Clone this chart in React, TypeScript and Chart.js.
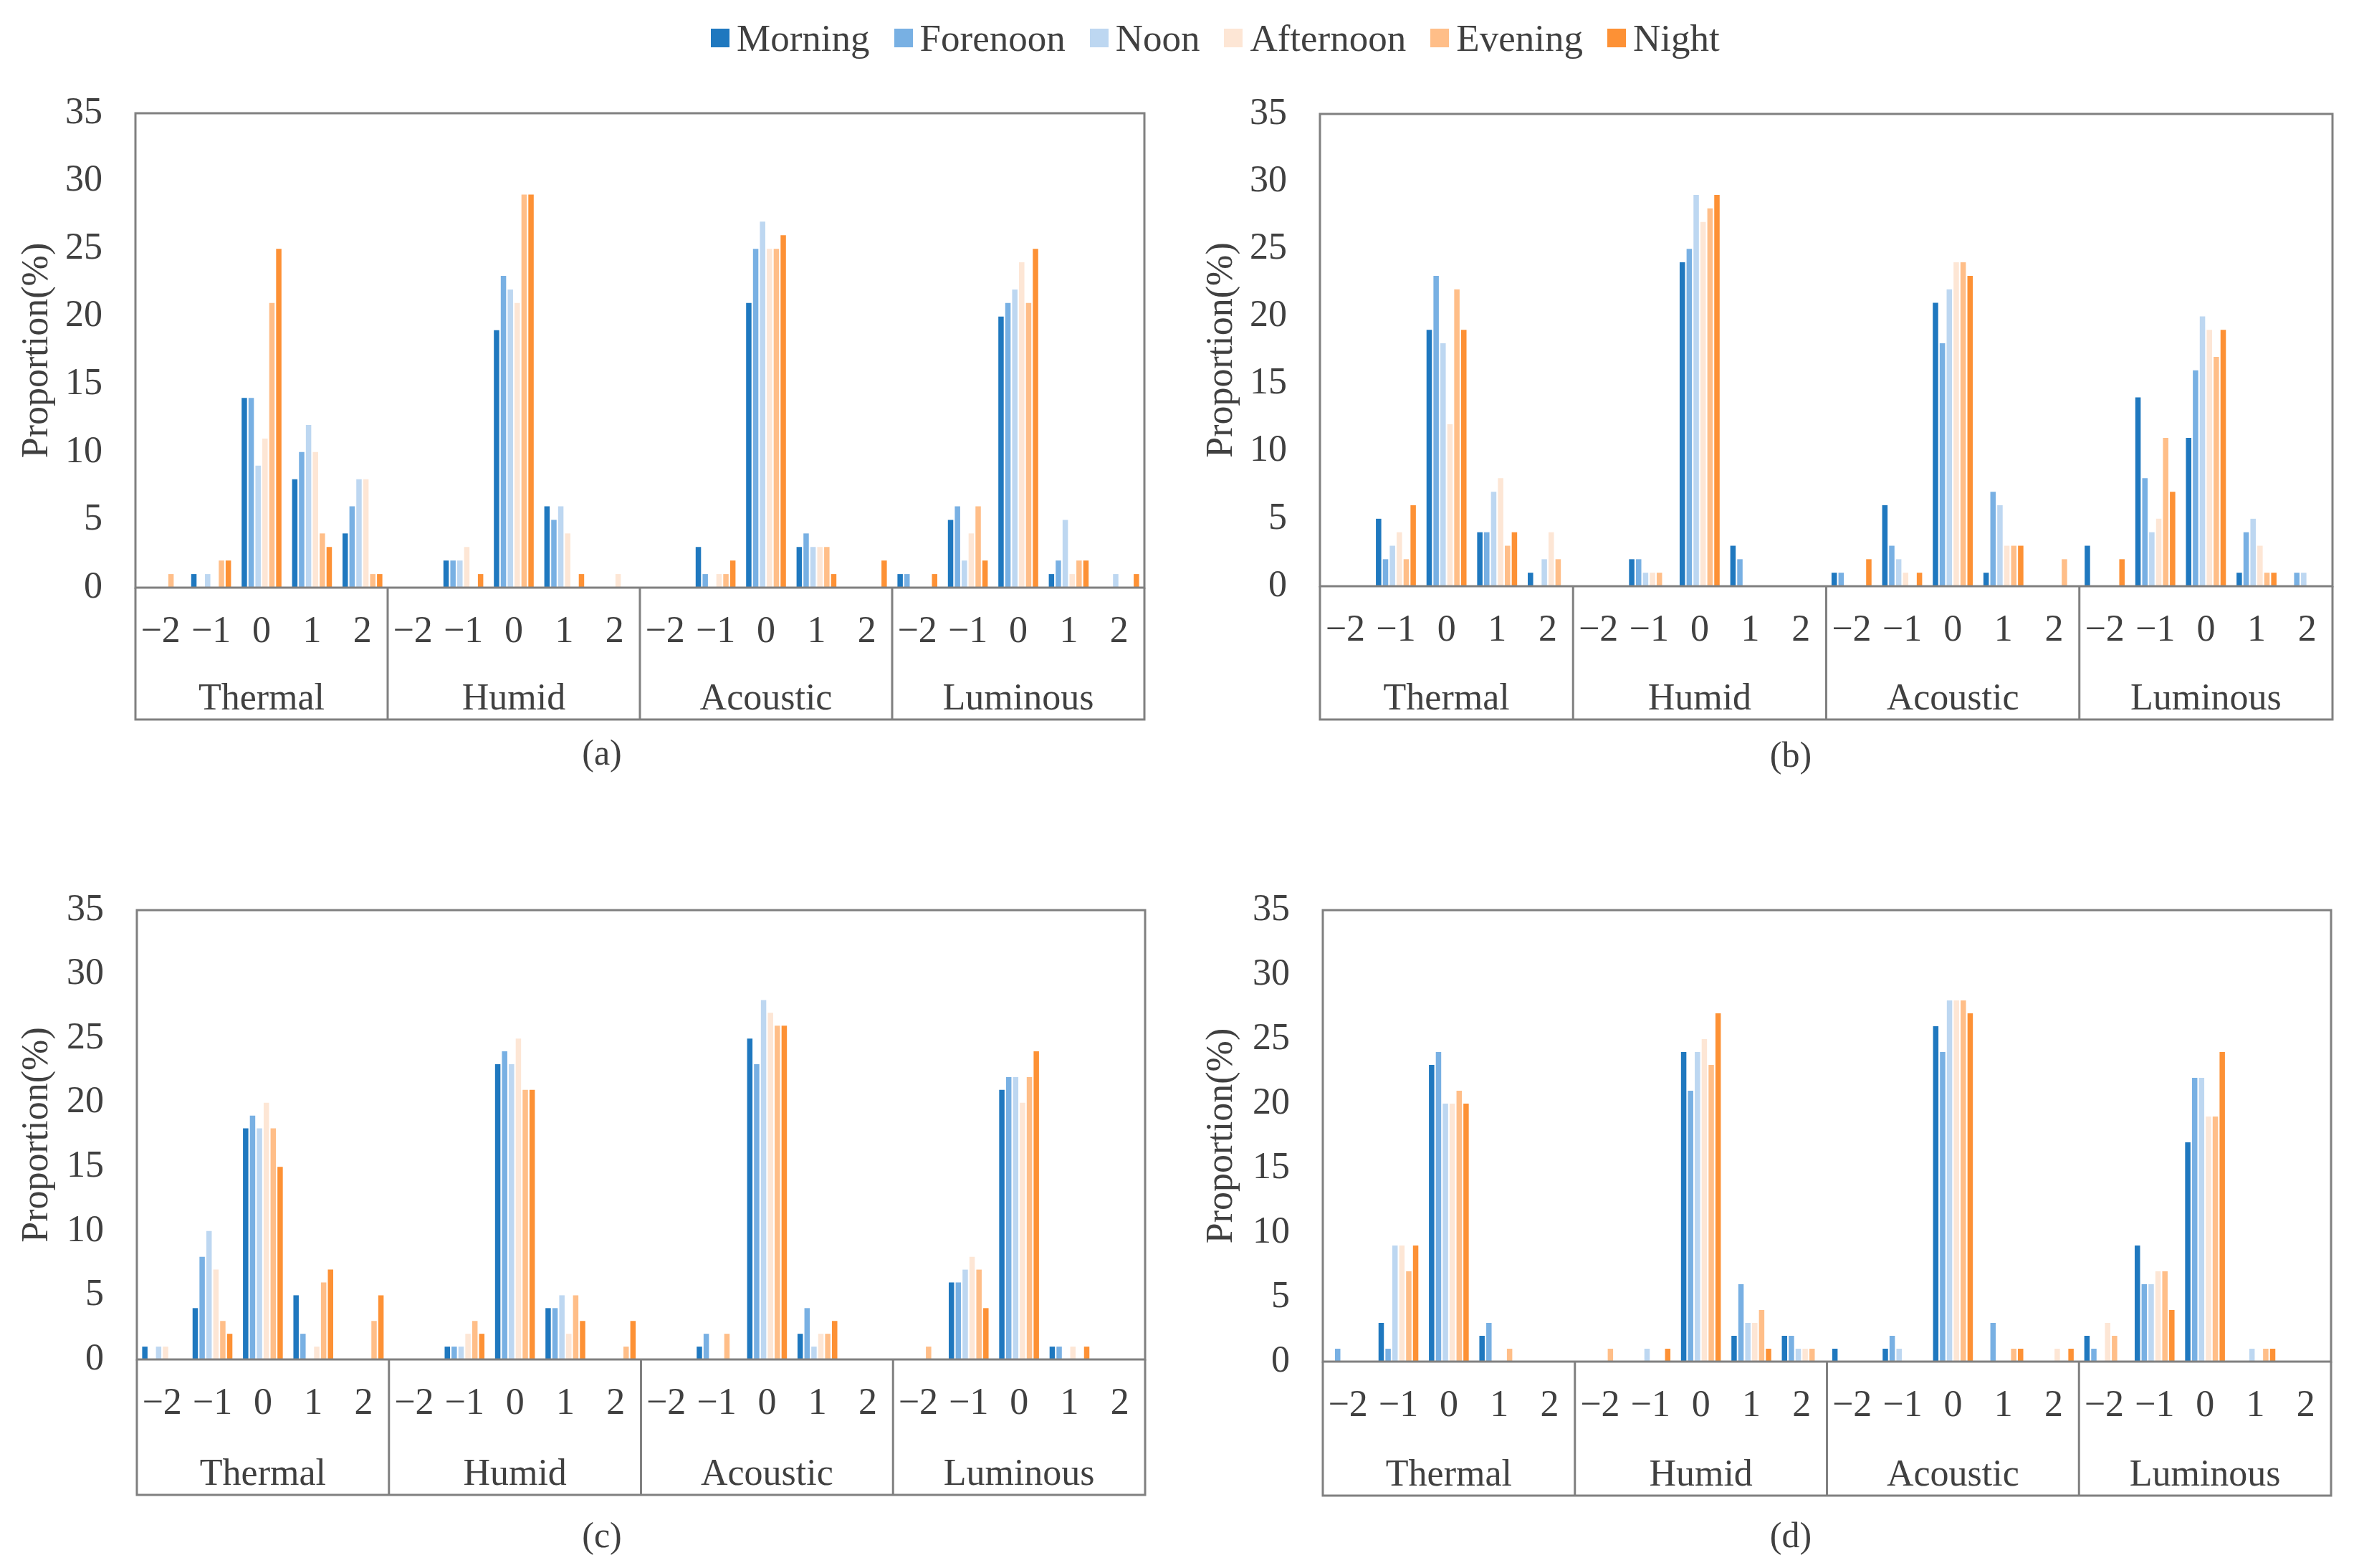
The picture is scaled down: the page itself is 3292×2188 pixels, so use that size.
import React, { useEffect, useRef } from "react";
import { Chart, registerables } from "chart.js";

Chart.register(...registerables);

// ---------- categories / labels ----------
const LEVELS = ["\u22122", "\u22121", "0", "1", "2"];
const GROUPS = ["Thermal", "Humid", "Acoustic", "Luminous"];
const SERIES = ["Morning", "Forenoon", "Noon", "Afternoon", "Evening", "Night"];
const COLORS = ["#1F78BF", "#78B0E3", "#BDD7F1", "#FDE6D5", "#FFBE88", "#FD9135"];
const PANEL_NAMES = ["(a)", "(b)", "(c)", "(d)"];
const Y_MAX = 35;
const Y_STEP = 5;
const Y_TITLE = "Proportion(%)";
const X_LABELS = GROUPS.flatMap(() => LEVELS);

// ---------- values: per series, 4 groups x 5 levels (Thermal | Humid | Acoustic | Luminous) ----------
// Panel (a)
const aMorning = [0, 1, 14, 8, 4, 0, 2, 19, 6, 0, 0, 3, 21, 3, 0, 1, 5, 20, 1, 0];
const aForenoon = [0, 0, 14, 10, 6, 0, 2, 23, 5, 0, 0, 1, 25, 4, 0, 1, 6, 21, 2, 0];
const aNoon = [0, 1, 9, 12, 8, 0, 2, 22, 6, 0, 0, 0, 27, 3, 0, 0, 2, 22, 5, 1];
const aAfternoon = [0, 0, 11, 10, 8, 0, 3, 21, 4, 1, 0, 1, 25, 3, 0, 0, 4, 24, 1, 0];
const aEvening = [1, 2, 21, 4, 1, 0, 0, 29, 0, 0, 0, 1, 25, 3, 0, 0, 6, 21, 2, 0];
const aNight = [0, 2, 25, 3, 1, 0, 1, 29, 1, 0, 0, 2, 26, 1, 2, 1, 2, 25, 2, 1];
// Panel (b)
const bMorning = [0, 5, 19, 4, 1, 0, 2, 24, 3, 0, 1, 6, 21, 1, 0, 3, 14, 11, 1, 0];
const bForenoon = [0, 2, 23, 4, 0, 0, 2, 25, 2, 0, 1, 3, 18, 7, 0, 0, 8, 16, 4, 1];
const bNoon = [0, 3, 18, 7, 2, 0, 1, 29, 0, 0, 0, 2, 22, 6, 0, 0, 4, 20, 5, 1];
const bAfternoon = [0, 4, 12, 8, 4, 0, 1, 27, 0, 0, 0, 1, 24, 3, 0, 0, 5, 19, 3, 0];
const bEvening = [0, 2, 22, 3, 2, 0, 1, 28, 0, 0, 0, 0, 24, 3, 2, 0, 11, 17, 1, 0];
const bNight = [0, 6, 19, 4, 0, 0, 0, 29, 0, 0, 2, 1, 23, 3, 0, 2, 7, 19, 1, 0];
// Panel (c)
const cMorning = [1, 4, 18, 5, 0, 0, 1, 23, 4, 0, 0, 1, 25, 2, 0, 0, 6, 21, 1, 0];
const cForenoon = [0, 8, 19, 2, 0, 0, 1, 24, 4, 0, 0, 2, 23, 4, 0, 0, 6, 22, 1, 0];
const cNoon = [1, 10, 18, 0, 0, 0, 1, 23, 5, 0, 0, 0, 28, 1, 0, 0, 7, 22, 0, 0];
const cAfternoon = [1, 7, 20, 1, 0, 0, 2, 25, 2, 0, 0, 0, 27, 2, 0, 0, 8, 20, 1, 0];
const cEvening = [0, 3, 18, 6, 3, 0, 3, 21, 5, 1, 0, 2, 26, 2, 0, 1, 7, 22, 0, 0];
const cNight = [0, 2, 15, 7, 5, 0, 2, 21, 3, 3, 0, 0, 26, 3, 0, 0, 4, 24, 1, 0];
// Panel (d)
const dMorning = [0, 3, 23, 2, 0, 0, 0, 24, 2, 2, 1, 1, 26, 0, 0, 2, 9, 17, 0, 0];
const dForenoon = [1, 1, 24, 3, 0, 0, 0, 21, 6, 2, 0, 2, 24, 3, 0, 1, 6, 22, 0, 0];
const dNoon = [0, 9, 20, 0, 0, 0, 1, 24, 3, 1, 0, 1, 28, 0, 0, 0, 6, 22, 1, 0];
const dAfternoon = [0, 9, 20, 0, 0, 0, 0, 25, 3, 1, 0, 0, 28, 0, 1, 3, 7, 19, 0, 0];
const dEvening = [0, 7, 21, 1, 0, 1, 0, 23, 4, 1, 0, 0, 28, 1, 0, 2, 7, 19, 1, 0];
const dNight = [0, 9, 20, 0, 0, 0, 1, 27, 1, 0, 0, 0, 27, 1, 1, 0, 4, 24, 1, 0];

const PANEL_VALUES = [
  [aMorning, aForenoon, aNoon, aAfternoon, aEvening, aNight],
  [bMorning, bForenoon, bNoon, bAfternoon, bEvening, bNight],
  [cMorning, cForenoon, cNoon, cAfternoon, cEvening, cNight],
  [dMorning, dForenoon, dNoon, dAfternoon, dEvening, dNight],
];

// ---------- layout (pixels) ----------
const FONT_FAMILY = "'Liberation Serif', 'Times New Roman', serif";
const TEXT_COLOR = "#404040";
const LINE_COLOR = "#808080";
const LAYOUTS = [
  { left: 0, top: 58, w: 1646, h: 1042, axisL: 189, padTop: 100, padRight: 49, axisH: 280, titlePad: 21, tableH: 184 },
  { left: 1646, top: 58, w: 1646, h: 1042, axisL: 196, padTop: 101, padRight: 37, axisH: 282, titlePad: 28, tableH: 186 },
  { left: 0, top: 1170, w: 1646, h: 1018, axisL: 191, padTop: 100, padRight: 48, axisH: 291, titlePad: 21, tableH: 189 },
  { left: 1646, top: 1170, w: 1646, h: 1018, axisL: 200, padTop: 100, padRight: 39, axisH: 288, titlePad: 28, tableH: 187 },
];
const PANEL_LABEL_POS = [
  { x: 840, y: 1050 },
  { x: 2499, y: 1053 },
  { x: 840, y: 2142 },
  { x: 2499, y: 2142 },
];

const framePlugin = {
  id: "frame",
  afterDraw(chart: any, _args: any, opts: any) {
    const { ctx, chartArea } = chart;
    const xs = chart.scales.x;
    const { left, right, top, bottom } = chartArea;
    const tb = bottom + opts.tableH;
    ctx.save();
    ctx.strokeStyle = LINE_COLOR;
    ctx.lineWidth = 3;
    ctx.strokeRect(left, top, right - left, bottom - top);
    const bounds = [left];
    for (let g = 1; g < GROUPS.length; g++) {
      const i = g * LEVELS.length;
      bounds.push((xs.getPixelForValue(i - 1) + xs.getPixelForValue(i)) / 2);
    }
    bounds.push(right);
    ctx.beginPath();
    bounds.forEach((bx) => {
      ctx.moveTo(bx, bottom);
      ctx.lineTo(bx, tb);
    });
    ctx.moveTo(left - 1.5, tb);
    ctx.lineTo(right + 1.5, tb);
    ctx.stroke();
    ctx.fillStyle = TEXT_COLOR;
    ctx.font = `52px ${FONT_FAMILY}`;
    ctx.textAlign = "center";
    ctx.textBaseline = "middle";
    GROUPS.forEach((name, g) => {
      const cx = xs.getPixelForValue(g * LEVELS.length + 2);
      ctx.fillText(name, cx, bottom + opts.labelOffset);
    });
    ctx.restore();
  },
};

function Panel({ index }: { index: number }) {
  const ref = useRef<HTMLCanvasElement | null>(null);
  const lay = LAYOUTS[index];
  useEffect(() => {
    if (!ref.current) return;
    const values = PANEL_VALUES[index];
    const font = { family: FONT_FAMILY, size: 52 };
    const chart = new Chart(ref.current, {
      type: "bar",
      data: {
        labels: X_LABELS,
        datasets: SERIES.map((s, i) => ({
          label: s,
          data: values[i],
          backgroundColor: COLORS[i],
          borderWidth: 0,
          barPercentage: 0.78,
          categoryPercentage: 0.82,
        })),
      },
      options: {
        animation: false,
        responsive: false,
        devicePixelRatio: 1,
        layout: { padding: { left: 0, top: lay.padTop, right: lay.padRight, bottom: 0 } },
        plugins: {
          legend: { display: false },
          tooltip: { enabled: false },
          frame: { tableH: lay.tableH, labelOffset: lay.tableH - 28 },
        } as any,
        scales: {
          x: {
            grid: { display: false, drawTicks: false },
            border: { display: false },
            ticks: { font, color: TEXT_COLOR, padding: 31, maxRotation: 0, autoSkip: false },
            afterFit: (s: any) => {
              s.height = lay.axisH;
            },
          },
          y: {
            min: 0,
            max: Y_MAX,
            ticks: { stepSize: Y_STEP, font, color: TEXT_COLOR, padding: 46 },
            grid: { display: false, drawTicks: false },
            border: { display: false },
            title: {
              display: true,
              text: Y_TITLE,
              font,
              color: TEXT_COLOR,
              padding: { top: lay.titlePad, bottom: 0 },
            },
            afterFit: (s: any) => {
              s.width = lay.axisL;
            },
          },
        },
      } as any,
      plugins: [framePlugin],
    });
    return () => chart.destroy();
  }, [index]);
  return (
    <canvas
      ref={ref}
      width={lay.w}
      height={lay.h}
      style={{ position: "absolute", left: lay.left, top: lay.top, width: lay.w, height: lay.h }}
    />
  );
}

export default function App() {
  return (
    <div
      style={{
        position: "fixed",
        left: 0,
        top: 0,
        width: 3292,
        height: 2188,
        background: "#ffffff",
        overflow: "hidden",
        fontFamily: FONT_FAMILY,
        color: TEXT_COLOR,
      }}
    >
      <div
        style={{
          position: "absolute",
          left: 992,
          top: 22,
          height: 62,
          display: "flex",
          alignItems: "center",
          gap: 34,
          fontSize: 53,
          lineHeight: "62px",
          whiteSpace: "nowrap",
        }}
      >
        {SERIES.map((s, i) => (
          <div key={s} style={{ display: "flex", alignItems: "center" }}>
            <span
              style={{ display: "inline-block", width: 26, height: 26, background: COLORS[i], marginRight: 10 }}
            />
            <span>{s}</span>
          </div>
        ))}
      </div>
      {LAYOUTS.map((_, i) => (
        <Panel key={i} index={i} />
      ))}
      {PANEL_NAMES.map((n, i) => (
        <div
          key={n}
          style={{
            position: "absolute",
            left: PANEL_LABEL_POS[i].x - 100,
            top: PANEL_LABEL_POS[i].y - 31,
            width: 200,
            textAlign: "center",
            fontSize: 50,
            lineHeight: "62px",
          }}
        >
          {n}
        </div>
      ))}
    </div>
  );
}
